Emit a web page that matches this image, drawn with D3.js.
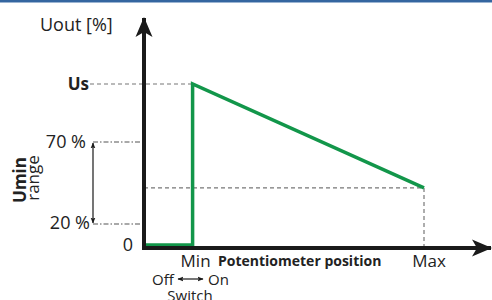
<!DOCTYPE html>
<html>
<head>
<meta charset="utf-8">
<script src="https://cdn.jsdelivr.net/npm/d3@7"></script>
<style>
  body { margin: 0; background: #fff; }
  svg { display: block; font-family: "Open Sans", sans-serif; }
</style>
</head>
<body>
<svg id="chart"></svg>
<script>
const width = 492;
const height = 300;

// DATA
const xTickLabels = ["Min", "Max"];
const xTickValues = [0, 100];
const yTickLabels = ["0", "20 %", "70 %", "Us"];
const yTickValues = [0, 20, 70, 105];
const curveX = [-21, 0, 0, 100];
const curveY = [0, 0, 105, 42];
const uminRange = [20, 70];
const endValue = 42;

// SCALES (schematic, so y is piecewise)
const xScale = d3.scaleLinear()
        .domain([-21, 100])
        .range([144, 424])

const yScale = d3.scaleLinear()
        .domain([0, 20, 70, 105])
        .range([248, 224, 142, 84])

const svg = d3.select("#chart")
  .attr("width", width)
  .attr("height", height)

// top border
svg.append("rect")
  .attr("x", 0).attr("y", 0)
  .attr("width", width).attr("height", 2)
  .attr("fill", "#3566a0")
svg.append("rect")
  .attr("x", 0).attr("y", 2)
  .attr("width", width).attr("height", 1)
  .attr("fill", "#9bb4d2")

const defs = svg.append("defs")
defs.append("marker")
  .attr("id", "bigHead")
  .attr("viewBox", "0 0 20 20")
  .attr("refX", 19).attr("refY", 10)
  .attr("markerWidth", 20).attr("markerHeight", 20)
  .attr("markerUnits", "userSpaceOnUse")
  .attr("orient", "auto")
  .append("path")
    .attr("d", "M0,1.5 L20,10 L0,18.5 L5,10 Z")
    .attr("fill", "#1a1a1a")

defs.append("marker")
  .attr("id", "smallHead")
  .attr("viewBox", "0 0 10 10")
  .attr("refX", 9).attr("refY", 5)
  .attr("markerWidth", 6).attr("markerHeight", 6)
  .attr("markerUnits", "userSpaceOnUse")
  .attr("orient", "auto-start-reverse")
  .append("path")
    .attr("d", "M0,1 L10,5 L0,9 L2,5 Z")
    .attr("fill", "#1a1a1a")

// GUIDE LINES
const x0 = xScale(-21)
svg.append("line")
  .attr("x1", 90).attr("x2", xScale(0))
  .attr("y1", yScale(105)).attr("y2", yScale(105))
  .attr("stroke", "#777").attr("stroke-width", 1.2)
  .attr("stroke-dasharray", "4,3")

svg.selectAll(".rangeLine")
  .data(uminRange)
  .enter()
  .append("line")
    .attr("x1", 93).attr("x2", x0)
    .attr("y1", d => yScale(d)).attr("y2", d => yScale(d))
    .attr("stroke", "#555").attr("stroke-width", 1.2)
    .attr("stroke-dasharray", "5,2,1.5,2")

svg.append("line")
  .attr("x1", x0).attr("x2", xScale(100))
  .attr("y1", yScale(endValue)).attr("y2", yScale(endValue))
  .attr("stroke", "#777").attr("stroke-width", 1.2)
  .attr("stroke-dasharray", "4,3")

svg.append("line")
  .attr("x1", xScale(100)).attr("x2", xScale(100))
  .attr("y1", yScale(endValue)).attr("y2", yScale(0))
  .attr("stroke", "#777").attr("stroke-width", 1.2)
  .attr("stroke-dasharray", "4,3")

// range double arrow
svg.append("line")
  .attr("x1", 93).attr("x2", 93)
  .attr("y1", yScale(uminRange[1]) + 1).attr("y2", yScale(uminRange[0]) - 1)
  .attr("stroke", "#1a1a1a").attr("stroke-width", 1.2)
  .attr("marker-start", "url(#smallHead)")
  .attr("marker-end", "url(#smallHead)")

// GREEN CURVE
const curve = curveX.map((x, i) => ({ x: x, y: curveY[i] }))
svg.append("path")
  .datum(curve)
  .attr("d", d3.line()
      .x(d => xScale(d.x))
      .y(d => yScale(d.y) - (d.y === 0 ? 3 : 0)))
  .attr("fill", "none")
  .attr("stroke", "#12964a")
  .attr("stroke-width", 3.5)
  .attr("stroke-linejoin", "miter")

// AXES
svg.append("line")
  .attr("x1", x0).attr("x2", 491)
  .attr("y1", yScale(0)).attr("y2", yScale(0))
  .attr("stroke", "#1a1a1a").attr("stroke-width", 4)
  .attr("marker-end", "url(#bigHead)")

svg.append("line")
  .attr("x1", x0).attr("x2", x0)
  .attr("y1", yScale(0) + 2).attr("y2", 18)
  .attr("stroke", "#1a1a1a").attr("stroke-width", 4)
  .attr("marker-end", "url(#bigHead)")

// LABELS
svg.append("text")
  .attr("x", 40).attr("y", 31)
  .style("font-size", "18px").attr("fill", "#222")
  .text("Uout [%]")

const yLabelX = [133, 90, 86, 89]
const yLabelY = [251, 229, 148, 90]
svg.selectAll(".ylab")
  .data(yTickLabels)
  .enter()
  .append("text")
    .attr("x", (d, i) => yLabelX[i])
    .attr("y", (d, i) => yLabelY[i])
    .style("text-anchor", "end")
    .style("font-size", (d, i) => i === 3 ? "17px" : "18px")
    .style("font-weight", (d, i) => i === 3 ? "bold" : "normal")
    .attr("fill", "#222")
    .text(d => d)

svg.selectAll(".xlab")
  .data(xTickLabels)
  .enter()
  .append("text")
    .attr("x", (d, i) => xScale(xTickValues[i]) + (i === 0 ? 3 : 5))
    .attr("y", 267)
    .style("text-anchor", "middle")
    .style("font-size", "17px")
    .attr("fill", "#222")
    .text(d => d)

svg.append("text")
  .attr("x", 218).attr("y", 266)
  .style("font-size", "14px").style("font-weight", "bold")
  .attr("fill", "#222")
  .text("Potentiometer position")

// switch
svg.append("text")
  .attr("x", 152).attr("y", 285)
  .style("font-size", "15px").attr("fill", "#222")
  .text("Off")
svg.append("text")
  .attr("x", 208).attr("y", 285)
  .style("font-size", "15px").attr("fill", "#222")
  .text("On")
svg.append("line")
  .attr("x1", 178).attr("x2", 203)
  .attr("y1", 279).attr("y2", 279)
  .attr("stroke", "#1a1a1a").attr("stroke-width", 1.2)
  .attr("marker-start", "url(#smallHead)")
  .attr("marker-end", "url(#smallHead)")
svg.append("text")
  .attr("x", 190).attr("y", 301)
  .style("text-anchor", "middle")
  .style("font-size", "15px").attr("fill", "#222")
  .text("Switch")

// Umin range, rotated
svg.append("text")
  .attr("transform", "rotate(-90)")
  .attr("x", -180).attr("y", 26)
  .style("text-anchor", "middle")
  .style("font-size", "17px").style("font-weight", "bold")
  .attr("fill", "#222")
  .text("Umin")
svg.append("text")
  .attr("transform", "rotate(-90)")
  .attr("x", -178).attr("y", 39)
  .style("text-anchor", "middle")
  .style("font-size", "17px")
  .attr("fill", "#222")
  .text("range")
</script>
</body>
</html>
